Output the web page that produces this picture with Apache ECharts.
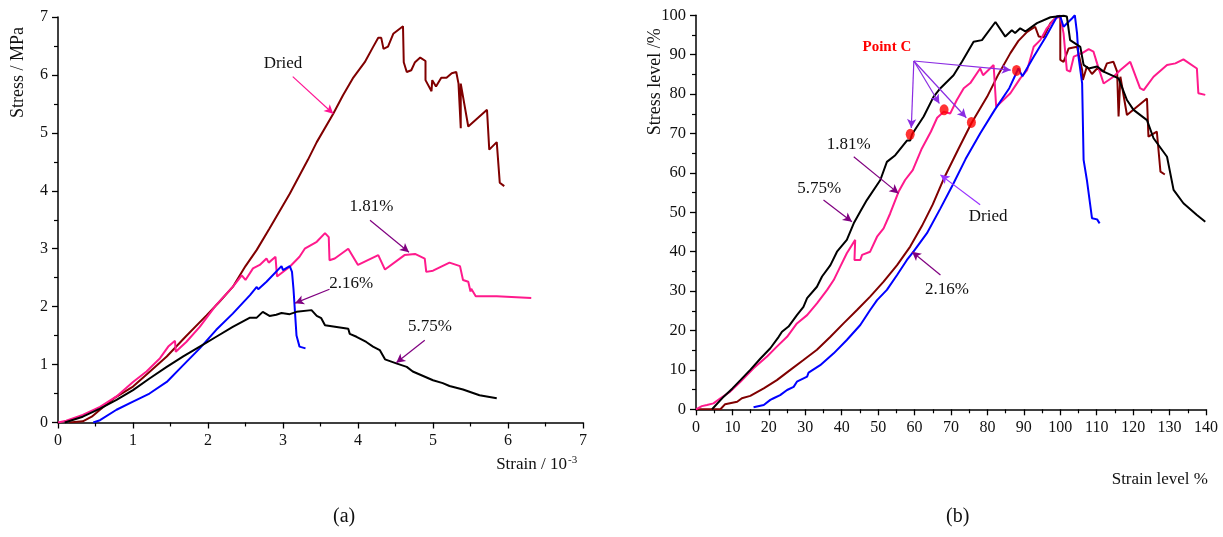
<!DOCTYPE html>
<html>
<head>
<meta charset="utf-8">
<script src="https://cdn.jsdelivr.net/npm/echarts@6/dist/echarts.min.js"></script>
<style>
html,body{margin:0;padding:0;background:#fff;}
#c{width:1223px;height:537px;}
</style>
</head>
<body>
<div id="c"></div>
<script>
// ---------- DATA (a) : Stress (MPa) vs Strain (10^-3) ----------
const driedA = [[0.15,0],[0.33,0.02],[0.45,0.1],[0.56,0.22],[0.75,0.42],[1.0,0.62],[1.2,0.85],[1.45,1.14],[1.7,1.48],[1.98,1.85],[2.15,2.08],[2.33,2.34],[2.5,2.7],[2.65,2.98],[2.82,3.35],[3.09,3.95],[3.33,4.53],[3.45,4.84],[3.67,5.33],[3.8,5.65],[3.93,5.94],[4.09,6.22],[4.2,6.48],[4.27,6.64],[4.31,6.64],[4.34,6.45],[4.4,6.49],[4.47,6.71],[4.6,6.84],[4.61,6.22],[4.65,6.05],[4.71,6.08],[4.76,6.22],[4.83,6.3],[4.9,6.24],[4.9,5.91],[4.98,5.72],[4.99,5.91],[5.04,5.8],[5.11,5.95],[5.18,5.95],[5.25,6.03],[5.31,6.05],[5.34,5.85],[5.37,5.08],[5.37,5.85],[5.47,5.11],[5.72,5.4],[5.75,4.71],[5.85,4.84],[5.89,4.14],[5.95,4.08]];
const w181A = [[0,0],[0.11,0.03],[0.33,0.13],[0.56,0.27],[0.78,0.45],[1.0,0.7],[1.18,0.88],[1.36,1.11],[1.47,1.31],[1.56,1.41],[1.57,1.22],[1.71,1.39],[1.89,1.65],[2.11,2.03],[2.33,2.34],[2.45,2.54],[2.5,2.46],[2.6,2.66],[2.69,2.72],[2.78,2.83],[2.81,2.76],[2.9,2.86],[2.92,2.52],[3.09,2.69],[3.22,2.86],[3.29,3.0],[3.45,3.12],[3.56,3.27],[3.61,3.2],[3.62,2.8],[3.69,2.83],[3.87,3.0],[4.0,2.72],[4.27,2.89],[4.36,2.64],[4.62,2.89],[4.76,2.91],[4.89,2.83],[4.91,2.6],[5.0,2.62],[5.22,2.76],[5.36,2.7],[5.4,2.46],[5.47,2.43],[5.5,2.26],[5.51,2.31],[5.57,2.18],[5.85,2.18],[6.31,2.15]];
const w216A = [[0.47,0],[0.56,0.04],[0.78,0.22],[1.0,0.36],[1.22,0.5],[1.45,0.7],[1.67,0.99],[1.89,1.28],[2.11,1.6],[2.33,1.88],[2.56,2.2],[2.65,2.34],[2.67,2.3],[2.78,2.43],[2.98,2.7],[3.0,2.63],[3.09,2.7],[3.12,2.6],[3.14,2.3],[3.16,1.9],[3.18,1.5],[3.22,1.31],[3.3,1.28]];
const w575A = [[0.09,0],[0.33,0.1],[0.56,0.24],[0.78,0.39],[1.0,0.56],[1.22,0.76],[1.45,0.96],[1.67,1.14],[1.89,1.31],[2.11,1.48],[2.33,1.65],[2.56,1.81],[2.65,1.81],[2.73,1.91],[2.82,1.84],[2.91,1.86],[2.98,1.89],[3.09,1.87],[3.18,1.91],[3.38,1.94],[3.45,1.84],[3.51,1.8],[3.56,1.68],[3.87,1.62],[3.89,1.53],[3.98,1.48],[4.11,1.39],[4.2,1.31],[4.29,1.25],[4.36,1.09],[4.51,1.02],[4.65,0.96],[4.73,0.88],[5.0,0.73],[5.13,0.68],[5.22,0.63],[5.4,0.57],[5.62,0.47],[5.85,0.42]];

// ---------- DATA (b) : Stress level (%) vs Strain level (%) ----------
const driedB = [[0,0],[6.7,0],[8,1.3],[11.3,1.9],[12.6,2.8],[14.9,3.4],[18.6,5.3],[22.2,7.4],[25.9,10],[29.5,12.5],[33.2,15.1],[36.9,18.4],[40.5,21.8],[44.2,25.2],[47.8,28.6],[51.5,32.4],[55.2,36.6],[58.8,41.3],[62,46.5],[65,52],[68,58.5],[72,66],[75.6,72.6],[79.9,79.3],[83,85],[86.3,90.4],[88.5,93.5],[90.9,95.8],[93.1,97.1],[94.1,94.6],[95.4,94.4],[97.3,98],[99.1,99.7],[100,99.9],[100,88.7],[100.9,88.2],[102.3,91.6],[104.6,92],[106,86.1],[106.2,83.6],[107.3,87],[108.7,85.1],[110.1,86.5],[111.9,85.7],[112.8,87.8],[114.6,88.2],[115.6,85.7],[116,74.3],[116.5,84.4],[118.3,74.7],[123.8,78.9],[124.2,69.2],[126.5,70.5],[127.5,60.3],[128.7,59.6]];
const w181B = [[0,0],[1.6,0.8],[3,1.1],[4.8,1.5],[6.7,2.8],[9.4,4.5],[12.2,7],[15.8,10.4],[19.5,13.4],[22.2,15.9],[25,18.4],[27.7,21.8],[30.5,23.9],[33.2,26.9],[36,30.3],[37.8,32.8],[39.6,36.2],[41.4,39.6],[43.7,43],[43.5,37.9],[45.1,37.9],[45.6,39.2],[47.8,40],[49.7,43.8],[51.5,45.9],[53.3,49.7],[55.6,55.2],[57.4,58.2],[59.5,60.7],[62,66.2],[64.5,70.5],[66.2,74],[68,75.5],[69.8,75.1],[71.6,78.5],[73.5,81.5],[75.3,82.8],[78,86.5],[78.8,84.8],[81.7,87.4],[82.4,76.8],[86.3,80.2],[89,84],[90.9,86.1],[92.7,92],[94.5,93.7],[96.3,96.7],[98.6,99.2],[100,99.7],[100.9,95.4],[101.8,86.1],[102.7,85.7],[103.7,89.5],[106,90.4],[107.8,91.4],[109.1,90.8],[110.1,87.8],[111.9,82.7],[114.6,84.4],[116.5,86.1],[119.2,88.2],[121.9,81.5],[122.9,81],[125.6,84.4],[129.3,87.4],[131.6,87.8],[133.8,88.8],[137.5,86.5],[137.9,80.2],[139.8,79.8]];
const w216B = [[15.8,0.5],[18.6,1.1],[20.4,2.4],[21.3,2.8],[23.1,3.6],[25,4.9],[26.8,5.7],[27.7,7],[30.5,8.3],[30.9,9.3],[34.1,11.2],[37.8,14.2],[41.4,17.6],[45.1,21.4],[47.8,25.2],[49.7,27.7],[52.4,30.3],[55.2,34.1],[57.9,37.9],[59.7,40],[63.4,44.7],[67.1,51],[70.5,57],[74,63.5],[78,70],[82,76],[86,81.5],[88.5,86.5],[89.6,84.5],[92.7,89.5],[96,94.5],[99.1,99.7],[100,99.7],[100.9,97.1],[103.2,99.2],[104,100],[104.6,95.4],[105,89.5],[106,82.7],[106.4,63.3],[107.3,58.2],[108.7,48.5],[110.1,48.2],[110.8,47.2]];
const w575B = [[4.4,0],[7.6,3.2],[10,5.3],[12.2,7.4],[14.9,10],[17.7,12.9],[20.4,15.5],[22.7,18.4],[23.6,19.7],[25.4,21],[27.7,23.9],[29.5,26],[30.5,28.2],[33.2,31.1],[34.6,33.7],[36.9,36.6],[38.7,40],[41.4,43],[43.3,47.2],[45.1,50.2],[46.9,53.1],[50.6,58.2],[52.4,62.8],[54.7,64.5],[57.9,68.2],[58.8,68.2],[59.3,69.8],[62.5,74.3],[65.2,79.3],[67.1,81.5],[70.7,84.8],[73,88.2],[76.2,93.3],[78.5,93.7],[82.2,98.3],[84.9,94.6],[86.7,96.2],[87.6,95.5],[89,96.7],[90.4,95.9],[93.6,98],[97.3,99.5],[100.9,99.9],[101.8,99.7],[102.7,93.7],[105.5,92],[106.4,87.4],[107.8,86.5],[110.1,87],[111.9,85.7],[116,84],[118.3,78.5],[120.1,76],[123.8,73.4],[125.6,68.8],[129.3,64.1],[131.1,55.7],[133.8,52.3],[137.5,49.3],[139.8,47.6]];
const pointC = [[58.8,69.8],[68.1,76.0],[75.6,72.8],[88.0,86.0]];

// tick values
const ticksA_x = [0,1,2,3,4,5,6,7];
const ticksA_y = [0,1,2,3,4,5,6,7];
const ticksB_x = [0,10,20,30,40,50,60,70,80,90,100,110,120,130,140];
const ticksB_y = [0,10,20,30,40,50,60,70,80,90,100];

// ---------- ANNOTATIONS (data coordinates) ----------
const annA = [
  {text:'Dried', at:[3.0,6.2], from:[3.13,5.97], to:[3.67,5.33], color:'#ff1493'},
  {text:'1.81%', at:[4.18,3.72], from:[4.16,3.49], to:[4.68,2.94], color:'#800080'},
  {text:'2.16%', at:[3.91,2.4], from:[3.62,2.3], to:[3.16,2.06], color:'#800080'},
  {text:'5.75%', at:[4.96,1.65], from:[4.89,1.42], to:[4.51,1.03], color:'#800080'}
];
const annB = [
  {text:'1.81%', at:[41.9,67.1], from:[43.3,64.1], to:[55.6,54.8], color:'#800080'},
  {text:'5.75%', at:[33.8,56.1], from:[35.0,53.1], to:[42.8,47.6], color:'#800080'},
  {text:'Dried', at:[80.2,48.8], from:[78.0,51.9], to:[67.1,59.5], color:'#9933ff'},
  {text:'2.16%', at:[68.9,30.3], from:[67.1,34.1], to:[59.3,40.0], color:'#800080'}
];
const pointCLabel = {text:'Point C', at:[52.4,92.0], from:[59.8,88.4]};
const pointCArrowTips = [[59.1,71.4],[66.8,77.6],[74.2,74.0],[86.4,86.1]];

const FONT = 'Liberation Serif';
const C_DRIED = '#800000', C_181 = '#ff1a8c', C_216 = '#0000ff', C_575 = '#000000';

function axisCommon(min,max,interval,fs,ticks){
  return {
    type:'value', min:min, max:max, interval:interval,
    axisLine:{show:true, onZero:false, lineStyle:{color:'#000', width:1.5}},
    axisTick:{show:true, inside:false, length:6, lineStyle:{color:'#000', width:1.3}},
    minorTick:{show:true, splitNumber:2, length:4, lineStyle:{color:'#000', width:1.2}},
    splitLine:{show:false}, minorSplitLine:{show:false},
    axisLabel:{fontFamily:FONT, fontSize:fs, color:'#111', margin:10,
      formatter:v=>ticks.indexOf(v)>=0 ? String(v) : ''},
    name:''
  };
}

function lineSeries(data, color, xi){
  return {type:'line', xAxisIndex:xi, yAxisIndex:xi, data:data, showSymbol:false, symbol:'none',
    lineStyle:{color:color, width:2}, itemStyle:{color:color}, animation:false, z:3};
}

function annSeries(list, xi){
  const series = [];
  list.forEach(a=>{
    series.push({
      type:'line', xAxisIndex:xi, yAxisIndex:xi, data:[], animation:false, silent:true,
      markLine:{silent:true, symbol:['none','arrow'], symbolSize:[7,9], animation:false,
        lineStyle:{color:a.color, width:1.2, type:'solid'}, label:{show:false},
        data:[[{coord:a.from},{coord:a.to}]]},
      markPoint:{silent:true, animation:false, symbol:'rect', symbolSize:1, itemStyle:{color:'rgba(0,0,0,0)'},
        label:{show:true, position:'inside', formatter:a.text, fontFamily:FONT, fontSize:17, color:'#111'},
        data:[{coord:a.at, value:a.text}]}
    });
  });
  return series;
}

const chart = echarts.init(document.getElementById('c'), null, {renderer:'canvas'});
const xa0 = axisCommon(0,7,1,16,ticksA_x);
const ya0 = axisCommon(0,7,1,16,ticksA_y);
const xa1 = axisCommon(0,140,10,16,ticksB_x);
const ya1 = axisCommon(0,100,10,16.5,ticksB_y);
xa0.gridIndex=0; ya0.gridIndex=0; xa1.gridIndex=1; ya1.gridIndex=1;

const pcLines = pointCArrowTips.map(t=>[{coord:pointCLabel.from},{coord:t}]);

const option = {
  backgroundColor:'#fff',
  animation:false,
  grid:[
    {left:58, top:17, width:525, height:405.5},
    {left:696, top:15.3, width:510, height:394}
  ],
  xAxis:[xa0, xa1],
  yAxis:[ya0, ya1],
  series:[
    lineSeries(driedA, C_DRIED, 0),
    lineSeries(w181A, C_181, 0),
    lineSeries(w216A, C_216, 0),
    lineSeries(w575A, C_575, 0),
    lineSeries(driedB, C_DRIED, 1),
    lineSeries(w181B, C_181, 1),
    lineSeries(w216B, C_216, 1),
    lineSeries(w575B, C_575, 1),
    ...annSeries(annA, 0),
    ...annSeries(annB, 1),
    {type:'line', xAxisIndex:1, yAxisIndex:1, data:[], animation:false, silent:true,
      markLine:{silent:true, symbol:['none','arrow'], symbolSize:[7,9], animation:false,
        lineStyle:{color:'#8a2be2', width:1.2, type:'solid'}, label:{show:false}, data:pcLines},
      markPoint:{silent:true, animation:false, symbol:'rect', symbolSize:1, itemStyle:{color:'rgba(0,0,0,0)'},
        label:{show:true, position:'inside', formatter:pointCLabel.text, fontFamily:FONT, fontSize:15, fontWeight:'bold', color:'#ff0000'},
        data:[{coord:pointCLabel.at}]}
    },
    {type:'scatter', xAxisIndex:1, yAxisIndex:1, data:pointC, symbol:'circle', symbolSize:[9,11],
      itemStyle:{color:'#ff0000'}, z:5, animation:false}
  ]
};
chart.setOption(option);

// axis names and captions placed relative to the axis scales
function place(){
  const pA = chart.convertToPixel({gridIndex:0}, [7,0]);
  const pB = chart.convertToPixel({gridIndex:1}, [140,0]);
  const pAy = chart.convertToPixel({gridIndex:0}, [0,7]);
  const pBy = chart.convertToPixel({gridIndex:1}, [0,100]);
  chart.setOption({graphic:[
    {type:'text', rotation:Math.PI/2, x:pAy[0]-49, y:pAy[1]+101, style:{text:'Stress / MPa', font:'18px "Liberation Serif"', fill:'#111'}},
    {type:'text', style:{text:'(a)', font:'20px "Liberation Serif"', fill:'#111'}, x:333, y:507},
    {type:'text', style:{text:'(b)', font:'20px "Liberation Serif"', fill:'#111'}, x:946, y:507},
    {type:'text', style:{text:'Strain / 10', font:'17px "Liberation Serif"', fill:'#111', align:'right'}, x:pA[0]-16, y:pA[1]+34},
    {type:'text', style:{text:'-3', font:'11px "Liberation Serif"', fill:'#111'}, x:pA[0]-15, y:pA[1]+32},
    {type:'text', rotation:Math.PI/2, x:pBy[0]-50, y:pBy[1]+120, style:{text:'Stress level /%', font:'18px "Liberation Serif"', fill:'#111'}},
    {type:'text', style:{text:'Strain level %', font:'17px "Liberation Serif"', fill:'#111', align:'right'}, x:pB[0]+2, y:pB[1]+62}
  ]}, {replaceMerge:['graphic']});
}
place();
</script>
</body>
</html>
